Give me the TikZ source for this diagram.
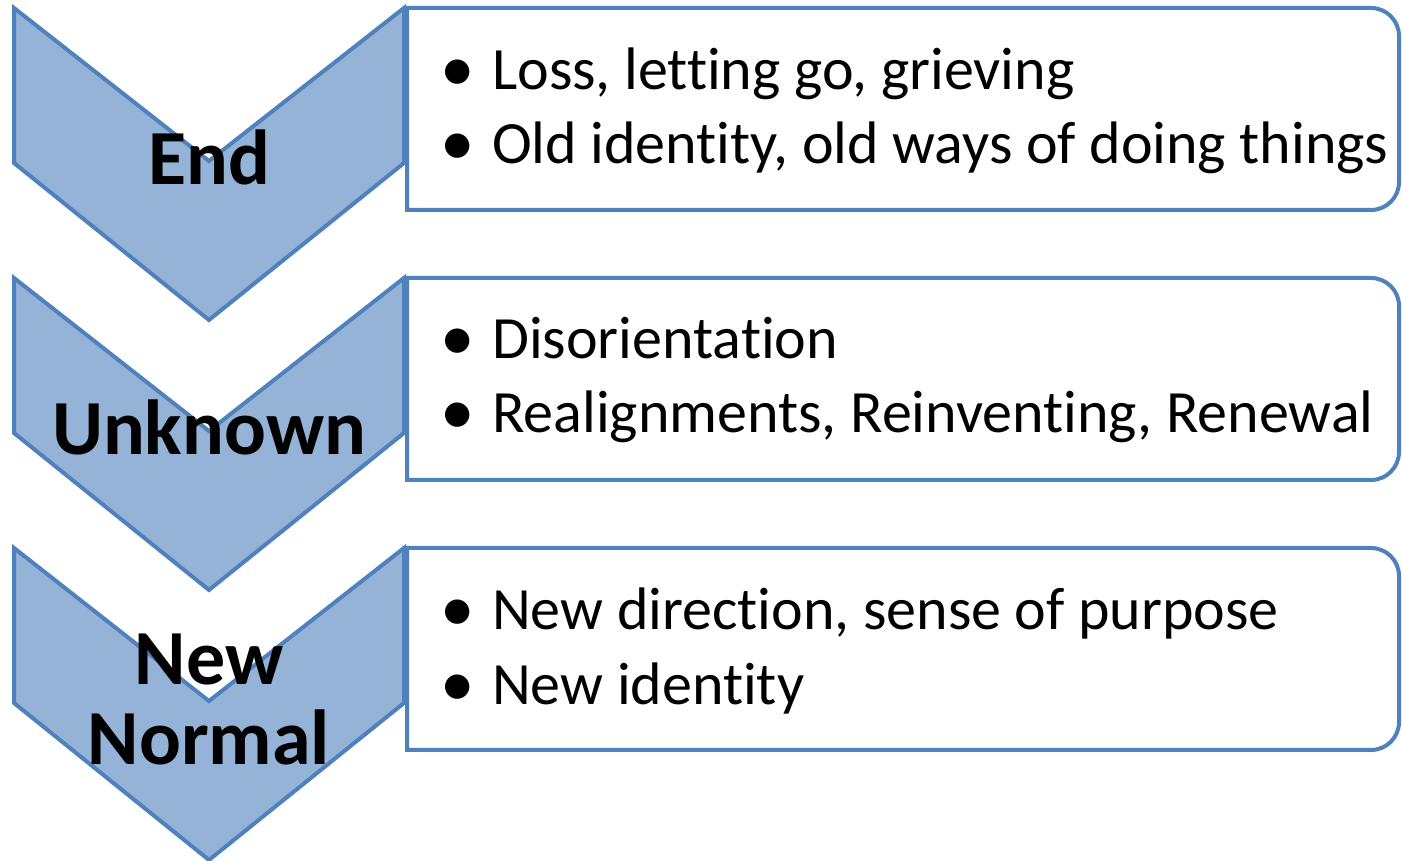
\documentclass[tikz,border=0pt]{standalone}
\usepackage{fontspec}
\setmainfont{Carlito}[Ligatures=NoCommon]
\definecolor{chevfill}{HTML}{95B3D7}
\definecolor{chevline}{HTML}{4F81BD}

\begin{document}
\begin{tikzpicture}[x=1pt,y=1pt,
  chevron/.style={fill=chevfill,draw=chevline,line width=4pt,line join=miter},
  stagebox/.style={fill=white,draw=chevline,line width=4pt},
  stage/.style={font=\fontsize{78}{80}\selectfont\bfseries,align=center,anchor=base,inner sep=0pt},
  item/.style={font=\fontsize{60}{62}\selectfont,anchor=base west,inner sep=0pt}]
\useasboundingbox (0,0) rectangle (1402,861);

% Chevrons and their boxes, one every 270
\foreach \i in {0,1,2} {
  \pgfmathsetmacro{\t}{853-270*\i}
  \draw[chevron] (14,\t) -- (209,\t-153) -- (404,\t) -- (404,\t-155)
    -- (209,\t-312) -- (14,\t-155) -- cycle;
  \draw[stagebox] (407,\t) -- (1371,\t) arc[start angle=90,end angle=0,radius=28]
    -- (1399,\t-174) arc[start angle=0,end angle=-90,radius=28] -- (407,\t-202) -- cycle;
}

% Stage names (base is the last line)
\node[stage] (end) at (209,676) {End};
\node[stage] (unknown) at (209,406) {Unknown};
\node[stage] (normal) at (209,96) {New\\Normal};

% Bullet points
\newcommand{\pt}[1]{\makebox[52pt][l]{\raisebox{-2pt}{\scalebox{1.15}{\textbullet}}}#1}
\node[item] (end1) at (440,771) {\pt{Loss, letting go, grieving}};
\node[item] (end2) at (440,697) {\pt{Old identity, old ways of doing things}};
\node[item] (unk1) at (440,502) {\pt{Disorientation}};
\node[item] (unk2) at (440,428) {\pt{Realignments, Reinventing, Renewal}};
\node[item] (new1) at (440,231) {\pt{New direction, sense of purpose}};
\node[item] (new2) at (440,156) {\pt{New identity}};
\end{tikzpicture}
\end{document}
